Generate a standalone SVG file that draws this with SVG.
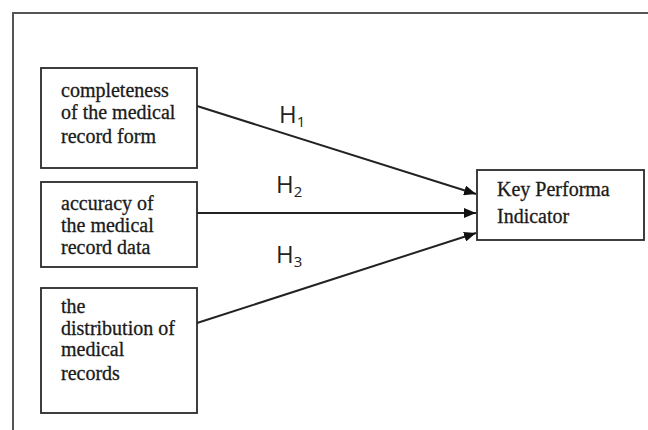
<svg xmlns="http://www.w3.org/2000/svg" width="648" height="430" viewBox="0 0 648 430">
<defs>
<marker id="ah" viewBox="0 0 12 10" refX="12" refY="5" markerWidth="12" markerHeight="10" markerUnits="userSpaceOnUse" orient="auto">
<path d="M0,0 L12,5 L0,10 z" fill="#111"/>
</marker>
<style>
.box{fill:#fff;stroke:#2a2a2a;stroke-width:1.8}
.t{font-family:"Liberation Serif",serif;font-size:20px;fill:#1a1a1a;stroke:#1a1a1a;stroke-width:0.3}
.h{font-family:"Open Sans","Liberation Sans",sans-serif;font-size:24px;fill:#222}
.sub{font-size:15px}
.conn{stroke:#222;stroke-width:2;fill:none;marker-end:url(#ah)}
</style>
</defs>
<rect width="648" height="430" fill="#fff"/>
<rect x="13" y="13" width="700" height="500" fill="none" stroke="#555" stroke-width="2"/>
<g id="n1">
<rect class="box" x="41" y="68" width="156" height="100"/>
<text class="t" x="61" y="97">completeness</text>
<text class="t" x="61" y="119">of the medical</text>
<text class="t" x="61" y="143">record form</text>
</g>
<g id="n2">
<rect class="box" x="41" y="182" width="156" height="85"/>
<text class="t" x="61" y="210">accuracy of</text>
<text class="t" x="61" y="232">the medical</text>
<text class="t" x="61" y="254">record data</text>
</g>
<g id="n3">
<rect class="box" x="41" y="288" width="156" height="125"/>
<text class="t" x="61" y="313">the</text>
<text class="t" x="61" y="335">distribution of</text>
<text class="t" x="61" y="356">medical</text>
<text class="t" x="61" y="380">records</text>
</g>
<g id="kpi">
<rect class="box" x="477" y="170" width="167" height="70"/>
<text class="t" x="497" y="196">Key Performa</text>
<text class="t" x="497" y="223">Indicator</text>
</g>
<g id="connectors">
<line class="conn" x1="197" y1="106" x2="476" y2="194"/>
<line class="conn" x1="197" y1="213" x2="476" y2="213"/>
<line class="conn" x1="197" y1="323" x2="476" y2="233"/>
<text class="h" x="279" y="123">H<tspan class="sub" dy="4">1</tspan></text>
<text class="h" x="276" y="193">H<tspan class="sub" dy="4">2</tspan></text>
<text class="h" x="276" y="263">H<tspan class="sub" dy="4">3</tspan></text>
</g>
</svg>
